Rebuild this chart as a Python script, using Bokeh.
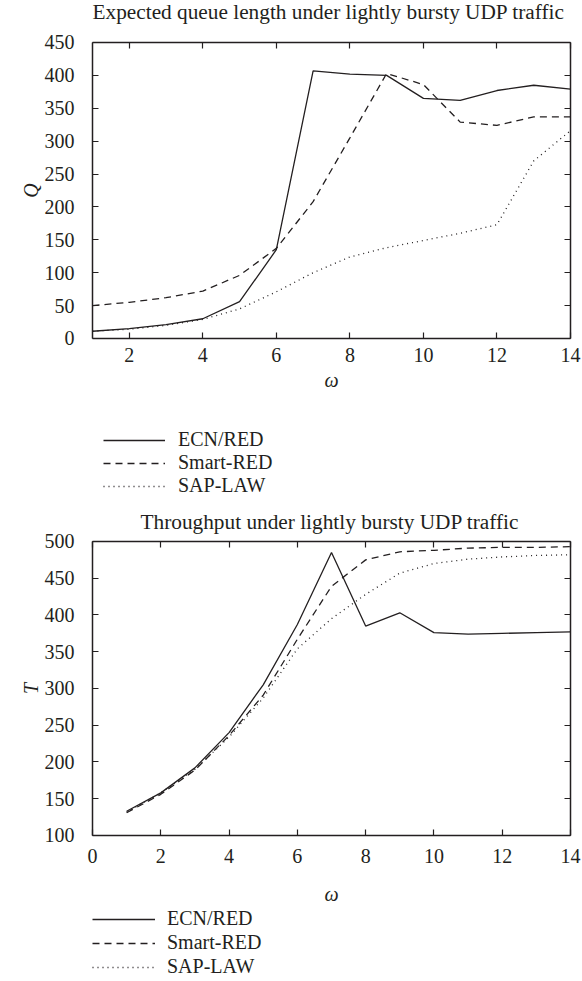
from bokeh.plotting import figure
from bokeh.models import (Range1d, LinearAxis, FixedTicker, Legend, LegendItem,
                          CustomJSTickFormatter, Label)
from bokeh.layouts import column
from bokeh.embed import file_html
from bokeh.resources import INLINE

# ---------------- data ----------------
omega_q = [1, 2, 3, 4, 5, 6, 7, 8, 9, 10, 11, 12, 13, 14]
q_ecn = [11, 15, 21, 30, 56, 135, 407, 402, 400, 365, 362, 377, 385, 379]
q_smart = [50, 55, 62, 72, 96, 137, 208, 305, 403, 386, 329, 324, 337, 337]
q_sap = [11, 14, 20, 29, 45, 71, 100, 124, 138, 149, 160, 173, 270, 316]

omega_t = [1, 2, 3, 4, 5, 6, 7, 8, 9, 10, 11, 12, 13, 14]
t_ecn = [133, 158, 192, 240, 305, 387, 485, 385, 403, 376, 374, 375, 376, 377]
t_smart = [131, 156, 189, 236, 291, 367, 439, 475, 486, 488, 491, 492, 492, 493]
t_sap = [132, 158, 190, 234, 287, 354, 395, 428, 457, 470, 476, 479, 481, 482]

series_names = ["ECN/RED", "Smart-RED", "SAP-LAW"]
q_xticks = [2, 4, 6, 8, 10, 12, 14]
q_yticks = [0, 50, 100, 150, 200, 250, 300, 350, 400, 450]
t_xticks = [0, 2, 4, 6, 8, 10, 12, 14]
t_yticks = [100, 150, 200, 250, 300, 350, 400, 450, 500]

FONT = "Liberation Serif"
INK = "#231f20"
DASHES = ["solid", "7 5", "1 4"]


def style_axis(ax):
    ax.axis_line_color = INK
    ax.axis_line_width = 1.5
    ax.major_tick_line_color = INK
    ax.major_tick_line_width = 1.2
    ax.major_tick_in = 6
    ax.major_tick_out = 0
    ax.minor_tick_line_color = None


def make_fig(title, xb, yb, x_view, y_view, xticks, yticks, ylabel, height,
             title_xy, xs, ys_list, leg_loc, glyph_w, standoff, spacing, xlab_so, ylab_so):
    # the frame covers the whole figure; the axes are pinned to the data box and
    # all labels, the title and the legend live inside the frame
    p = figure(width=582, height=height, x_range=Range1d(*x_view),
               y_range=Range1d(*y_view),
               output_backend="svg", toolbar_location=None,
               min_border_left=0, min_border_right=0, min_border_top=0,
               min_border_bottom=0)
    p.outline_line_color = None
    p.grid.visible = False
    p.background_fill_color = "white"
    p.border_fill_color = "white"

    p.add_layout(Label(x=title_xy[0], y=title_xy[1], x_units="screen", y_units="screen",
                       text=title, text_font=FONT, text_font_size="21.3px",
                       text_color=INK, text_baseline="middle", text_align="left"))

    for ax in p.xaxis + p.yaxis:
        style_axis(ax)
        ax.major_label_text_font = FONT
        ax.major_label_text_font_size = "20px"
        ax.major_label_text_color = INK
        ax.axis_label_text_font = FONT
        ax.axis_label_text_font_size = "20px"
        ax.axis_label_text_font_style = "italic"
        ax.axis_label_text_color = INK
    p.xaxis.ticker = FixedTicker(ticks=xticks)
    p.yaxis.ticker = FixedTicker(ticks=yticks)
    p.xaxis.fixed_location = yb[0]
    p.yaxis.fixed_location = xb[0]
    p.xaxis.bounds = xb
    p.yaxis.bounds = yb
    p.xaxis.axis_label = "ω"
    p.yaxis.axis_label = ylabel
    p.xaxis.major_label_standoff = xlab_so[0]
    p.xaxis.axis_label_standoff = xlab_so[1]
    p.yaxis.major_label_standoff = ylab_so[0]
    p.yaxis.axis_label_standoff = ylab_so[1]

    # mirrored ticks on top and right (closing the box)
    blank = CustomJSTickFormatter(code="return ''")
    top_ax = LinearAxis(ticker=FixedTicker(ticks=xticks), formatter=blank,
                        fixed_location=yb[1], bounds=xb)
    right_ax = LinearAxis(ticker=FixedTicker(ticks=yticks), formatter=blank,
                          fixed_location=xb[1], bounds=yb)
    for ax, place in ((top_ax, "above"), (right_ax, "right")):
        style_axis(ax)
        ax.major_label_standoff = 0
        ax.major_label_text_font_size = "10px"
        p.add_layout(ax, place)

    items = []
    for name, ys, dash in zip(series_names, ys_list, DASHES):
        r = p.line(xs, ys, line_color=INK, line_width=1.3, line_dash=dash)
        items.append(LegendItem(label=name, renderers=[r]))

    leg = Legend(items=items, location=leg_loc, orientation="vertical",
                 glyph_width=glyph_w, glyph_height=18, label_standoff=standoff,
                 spacing=spacing, padding=0, margin=0, border_line_color=None,
                 background_fill_alpha=0, label_text_font=FONT,
                 label_text_font_size="20px", label_text_color=INK, label_height=18)
    p.add_layout(leg)
    return p


p1 = make_fig("Expected queue length under lightly bursty UDP traffic",
              (1, 14), (0, 450), (-1.5021, 14.3264), (-246.3, 513.85),
              q_xticks, q_yticks, "Q", 500, (92, 489),
              omega_q, [q_ecn, q_smart, q_sap], (103, 3), 62, 13, 0,
              (10, 3), (18, 0))
p2 = make_fig("Throughput under lightly bursty UDP traffic",
              (0, 14), (100, 500), (-2.6946, 14.3515), (-98.64, 555.78),
              t_xticks, t_yticks, "T", 481, (140, 460),
              omega_t, [t_ecn, t_smart, t_sap], (92, 3), 63, 12, 1,
              (14, 16), (18, 0))

layout = column(p1, p2, spacing=0)
open("out.html", "w").write(file_html(layout, INLINE))
